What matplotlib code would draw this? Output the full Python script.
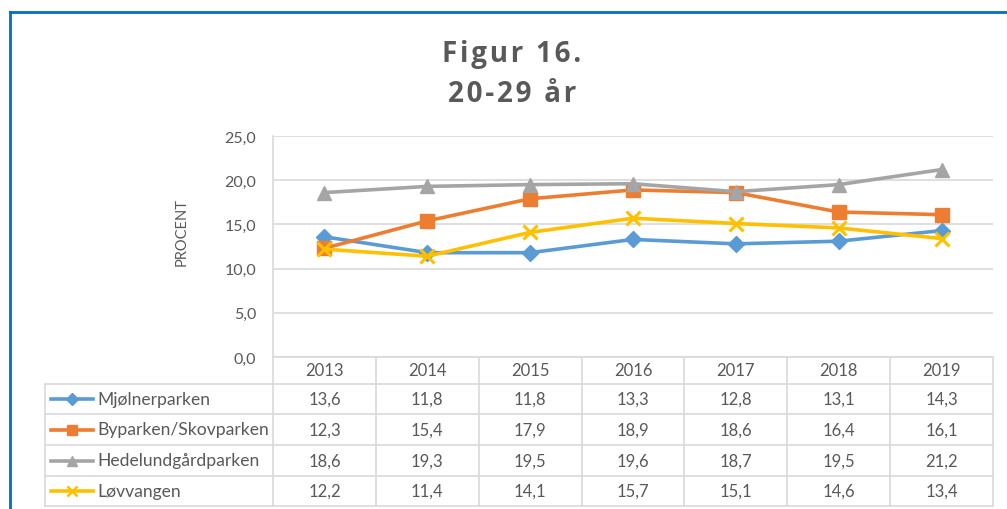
import matplotlib
matplotlib.use("Agg")
import matplotlib.pyplot as plt
from matplotlib.lines import Line2D

years = ["2013", "2014", "2015", "2016", "2017", "2018", "2019"]
names = ["Mjølnerparken", "Byparken/Skovparken", "Hedelundgårdparken", "Løvvangen"]
mjolner = [13.6, 11.8, 11.8, 13.3, 12.8, 13.1, 14.3]
byparken = [12.3, 15.4, 17.9, 18.9, 18.6, 16.4, 16.1]
hedelund = [18.6, 19.3, 19.5, 19.6, 18.7, 19.5, 21.2]
lovvangen = [12.2, 11.4, 14.1, 15.7, 15.1, 14.6, 13.4]

series = [mjolner, byparken, hedelund, lovvangen]
colors = ["#5B9BD5", "#ED7D31", "#A5A5A5", "#FFC000"]
markers = ["D", "s", "^", "x"]
msizes = [8, 10, 10, 10]

plt.rcParams["font.family"] = ["Lato", "DejaVu Sans"]
txt = "#595959"
grid = "#D9D9D9"

W, H = 1007, 510
fig = plt.figure(figsize=(W / 100, H / 100), dpi=100)

# pixel layout
x0, x1, ytop, ybot = 273, 993, 137, 358
ax = fig.add_axes([x0 / W, 1 - ybot / H, (x1 - x0) / W, (ybot - ytop) / H])
ph = ybot - ytop
colw = (x1 - x0) / len(years)

xs = range(len(years))
for vals, c, m, ms in zip(series, colors, markers, msizes):
    ax.plot(xs, vals, color=c, lw=2.6, marker=m, ms=ms, mew=2.2 if m == "x" else 1,
            mec=c, mfc=c, solid_capstyle="round", clip_on=False)

ax.set_xlim(-0.5, len(years) - 0.5)
ax.set_ylim(0, 25)
ax.set_yticks([0, 5, 10, 15, 20, 25])
ax.set_yticklabels([f"{v:.1f}".replace(".", ",") for v in [0, 5, 10, 15, 20, 25]])
ax.tick_params(axis="y", length=0, pad=12, labelsize=11.5, labelcolor=txt)
ax.set_xticks([])
ax.grid(axis="y", color=grid, lw=1.2)
ax.set_axisbelow(True)
for s in ["top", "right", "bottom"]:
    ax.spines[s].set_visible(False)
ax.spines["left"].set_color(grid)
ax.spines["left"].set_linewidth(1.2)

fig.text(182 / W, 1 - 232 / H, "PROCENT", rotation=90, ha="center", va="center",
         fontsize=10.5, color=txt)

# data table below the plot
tr = ax.get_xaxis_transform()


def yf(py):
    return (ybot - py) / ph


def xd(px):
    return (px - x0) / colw - 0.5


rows = [358, 385, 415, 446, 477, 507]
lab_left = xd(45)
for i, r in enumerate(rows):
    left = -0.5 if i == 0 else lab_left
    ax.add_line(Line2D([left, len(years) - 0.5], [yf(r)] * 2, transform=tr,
                       color=grid, lw=1.2, clip_on=False))
for k in range(len(years) + 1):
    ax.add_line(Line2D([k - 0.5] * 2, [yf(358), yf(507)], transform=tr,
                       color=grid, lw=1.2, clip_on=False))
ax.add_line(Line2D([lab_left] * 2, [yf(385), yf(507)], transform=tr,
                   color=grid, lw=1.2, clip_on=False))

for j, y in enumerate(years):
    ax.text(j, yf((rows[0] + rows[1]) / 2), y, transform=tr, ha="center", va="center",
            fontsize=12, color=txt)

for i, (name, vals, c, m, ms) in enumerate(zip(names, series, colors, markers, msizes)):
    yc = yf((rows[i + 1] + rows[i + 2]) / 2)
    ax.add_line(Line2D([xd(51), xd(93)], [yc, yc], transform=tr, color=c, lw=2.6,
                       clip_on=False))
    ax.add_line(Line2D([xd(72)], [yc], transform=tr, color=c, marker=m,
                       ms=ms * 0.75, mew=1.8 if m == "x" else 1, mfc=c, mec=c,
                       clip_on=False))
    ax.text(xd(97), yc, name, transform=tr, ha="left", va="center",
            fontsize=12.6, color=txt)
    for j, v in enumerate(vals):
        ax.text(j, yc, f"{v:.1f}".replace(".", ","), transform=tr, ha="center",
                va="center", fontsize=12, color=txt)

# title, spread out a little like the original
hair = "\u200a"
for label, base in [("Figur 16.", 62), ("20-29 år", 102)]:
    fig.text(512 / W, 1 - base / H, hair.join(label), ha="center", va="baseline",
             fontsize=20, fontweight="bold", color=txt,
             family=["Open Sans", "DejaVu Sans"])

# blue frame (top and left edges visible)
fig.add_artist(Line2D([10 / W, 1], [1 - 12.5 / H] * 2, transform=fig.transFigure,
                      color="#0070C0", lw=2))
fig.add_artist(Line2D([10 / W] * 2, [0, 1 - 12.5 / H], transform=fig.transFigure,
                      color="#0070C0", lw=2))

fig.savefig("out.png", dpi=100)
